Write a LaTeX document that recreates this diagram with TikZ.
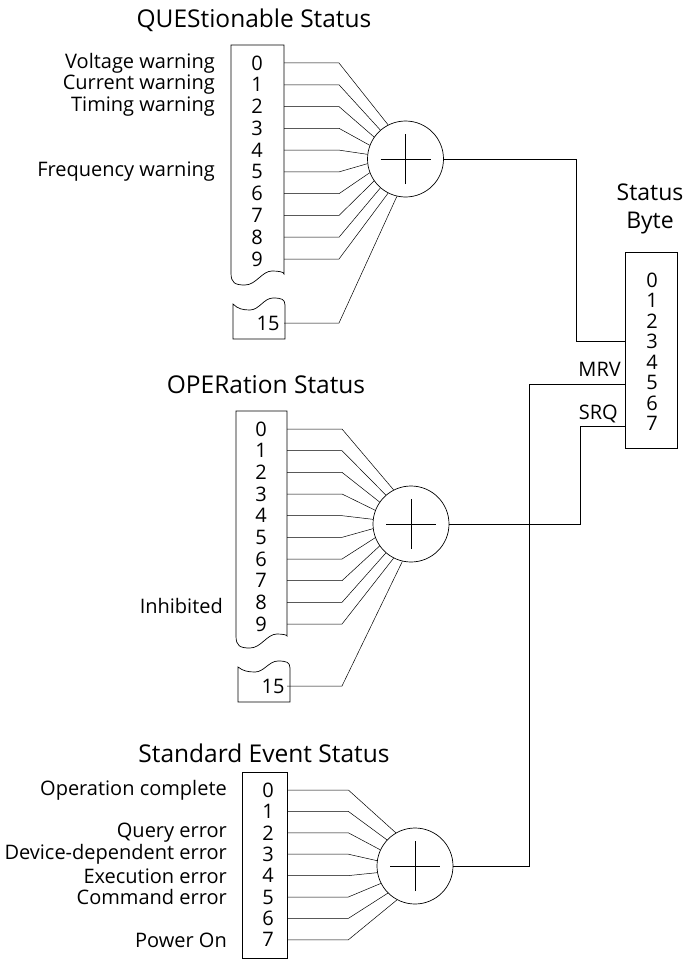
\documentclass[tikz,border=0pt]{standalone}
\usepackage{fontspec}
\setmainfont{Open Sans}
\usetikzlibrary{positioning, calc}

\begin{document}
\begin{tikzpicture}[
		x=1pt, y=-1pt,
		font=\fontsize{20}{22}\selectfont,
		% register bits and their names
		bit/.style={inner sep=0pt},
		bitname/.style={anchor=east, inner sep=0pt},
		regtitle/.style={font=\fontsize{24.5}{28}\selectfont, align=center},
		% lines
		reg/.style={line width=0.7pt},
		wire/.style={line width=0.6pt},
		fan/.style={line width=0.5pt},
		% summing junction
		sum/.style={circle, draw, line width=0.7pt, minimum size=76pt, inner sep=0pt,
			path picture={
				\draw[line width=0.6pt] ([xshift=-25pt]path picture bounding box.center) -- ([xshift=25pt]path picture bounding box.center)
				([yshift=-25pt]path picture bounding box.center) -- ([yshift=25pt]path picture bounding box.center);
			}}
		]
		\useasboundingbox (0,0) rectangle (686,966);
		
		% QUEStionable register
		\node[regtitle] (qtitle) at (254,20) {QUEStionable Status};
		\draw[reg] (284,274) -- (284,45) -- (231,45) -- (231,273)
			.. controls (231,283) and (235,285) .. (245,285)
			.. controls (256,285) and (262,271) .. (272,271)
			.. controls (279,271) and (284,272) .. cycle;
		\draw[reg] (233,339) -- (233,304)
			.. controls (238,309) and (243,310) .. (250,310)
			.. controls (259,310) and (264,298) .. (273,298)
			.. controls (281,298) and (285,299) .. (285,305) -- (285,339) -- cycle;
		\foreach \b [count=\k from 0] in {0,...,9}
			\node[bit] (q\b) at (257,63+21.78*\k) {\b};
		\node[bit] (q15) at (268,323) {15};
		\node[bitname] (qvolt) at (215,63) {Voltage warning};
		\node[bitname] (qcurr) at (215,85) {Current warning};
		\node[bitname] (qtime) at (215,107) {Timing warning};
		\node[bitname] (qfreq) at (215,172) {Frequency warning};
		\node[sum] (qsum) at (405.5,159) {};
		\coordinate (qR) at (284,0);
		\foreach \b [count=\k from 0, evaluate=\k as \a using 117+14*\k] in {0,1,2,3,4,5,6,7,8,9,15}
			\draw[fan] (q\b -| qR) -- ++(55,0) -- (qsum.\a);
		
		% OPERation register
		\node[regtitle] (otitle) at (266,385) {OPERation Status};
		\draw[reg] (287,636) -- (287,411) -- (236,411) -- (236,636)
			.. controls (236,646) and (240,648) .. (250,648)
			.. controls (261,648) and (267,634) .. (277,634)
			.. controls (283,634) and (287,635) .. cycle;
		\draw[reg] (238,702) -- (238,667)
			.. controls (243,671) and (248,672) .. (255,672)
			.. controls (264,672) and (269,661) .. (278,661)
			.. controls (286,661) and (290,662) .. (290,668) -- (290,702) -- cycle;
		\foreach \b [count=\k from 0] in {0,...,9}
			\node[bit] (o\b) at (261,429+21.67*\k) {\b};
		\node[bit] (o15) at (273,686) {15};
		\node[bitname] (oinh) at (223,606) {Inhibited};
		\node[sum] (osum) at (411,524) {};
		\coordinate (oR) at (287,0);
		\foreach \b [count=\k from 0, evaluate=\k as \a using 117+14*\k] in {0,1,2,3,4,5,6,7,8,9,15}
			\draw[fan] (o\b -| oR) -- ++(55,0) -- (osum.\a);
		
		% Standard Event register
		\node[regtitle] (etitle) at (264,753) {Standard Event Status};
		\node[draw, reg, minimum width=45pt, minimum height=186pt, inner sep=0pt] (ebox) at (264.5,865) {};
		\foreach \b [count=\k from 0] in {0,...,7}
			\node[bit] (e\b) at (268,790+21.4*\k) {\b};
		\node[bitname] (eopc) at (227,790) {Operation complete};
		\node[bitname] (eqry) at (227,833) {Query error};
		\node[bitname] (edde) at (227,854) {Device-dependent error};
		\node[bitname] (eexe) at (227,876) {Execution error};
		\node[bitname] (ecmd) at (227,897) {Command error};
		\node[bitname] (epon) at (227,940) {Power On};
		\node[sum] (esum) at (415,866) {};
		\foreach \b [evaluate=\b as \a using 120+17.5*\b] in {0,...,7}
			\draw[fan] (e\b -| ebox.east) -- ++(61,0) -- (esum.\a);
		
		% Status Byte
		\node[regtitle, font=\fontsize{23}{28}\selectfont] (stitle) at (650,209) {Status\\Byte};
		\node[draw, reg, minimum width=52pt, minimum height=196pt, inner sep=0pt] (sb) at (651,350) {};
		\foreach \b in {0,...,7}
			\node[bit] (s\b) at (652,280+20.5*\b) {\b};
		\node[anchor=base east, inner sep=0pt] (mrv) at (621,376) {MRV};
		\node[anchor=base east, inner sep=0pt] (srq) at (618,419) {SRQ};
		
		% summary lines to the Status Byte
		\coordinate (qbus) at (576,0);
		\coordinate (ebus) at (529,0);
		\coordinate (obus) at (580,0);
		\draw[wire] (qsum.east) -- (qsum.east -| qbus) -- (qbus |- s3) -- (s3 -| sb.west);
		\draw[wire] ([yshift=-2pt]s5 -| sb.west) -- ([yshift=-2pt]s5 -| ebus) -- (ebus |- esum.east) -- (esum.east);
		\draw[wire] ([yshift=-3pt]s7 -| sb.west) -- ([yshift=-3pt]s7 -| obus) -- (obus |- osum.east) -- (osum.east);
	\end{tikzpicture}
\end{document}
